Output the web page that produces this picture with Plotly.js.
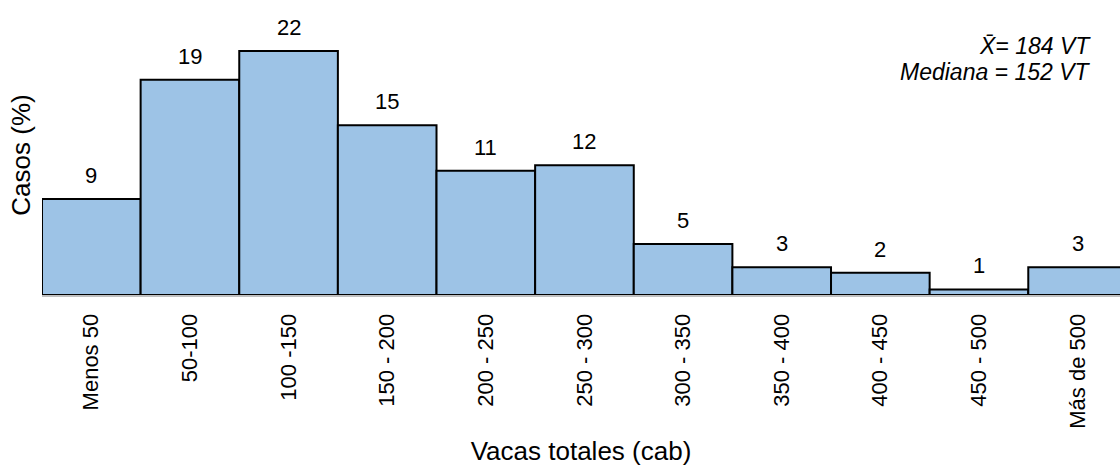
<!DOCTYPE html>
<html>
<head>
<meta charset="utf-8">
<script src="https://cdn.plot.ly/plotly-3.0.1.min.js"></script>
<style>html,body{margin:0;padding:0;background:#fff;}#chart{width:1120px;height:468px;}</style>
</head>
<body>
<div id="chart"></div>
<script>
const categories = ["Menos 50","50-100","100 -150","150 - 200","200 - 250","250 - 300","300 - 350","350 - 400","400 - 450","450 - 500","Más de 500"];
const values = [8.65, 19.4, 22.0, 15.3, 11.2, 11.7, 4.6, 2.5, 2.0, 0.5, 2.5];
const valueLabels = ["9","19","22","15","11","12","5","3","2","1","3"];
const statLines = ["<i>X̄= 184 VT</i>", "<i>Mediana = 152 VT</i>"];

const FONT = "Liberation Sans, Arial, sans-serif";

const trace = {
  type: "bar",
  x: categories,
  y: values,
  marker: {color: "#9dc3e6", line: {color: "#000000", width: 2}},
  hoverinfo: "none"
};

const annotations = categories.map((c, i) => ({
  x: c, y: values[i], xref: "x", yref: "y",
  text: valueLabels[i], showarrow: false,
  yanchor: "bottom", yshift: 9,
  font: {family: FONT, size: 22, color: "#000"}
}));

annotations.push({
  xref: "paper", yref: "paper", x: 0.975, y: 0.889, xanchor: "right", yanchor: "middle",
  text: statLines[0], showarrow: false, align: "right",
  font: {family: FONT, size: 23, color: "#000"}
});
annotations.push({
  xref: "paper", yref: "paper", x: 0.975, y: 0.796, xanchor: "right", yanchor: "middle",
  text: statLines[1], showarrow: false, align: "right",
  font: {family: FONT, size: 23, color: "#000"}
});

const layout = {
  width: 1120, height: 468,
  margin: {l: 42, r: 0, t: 15, b: 173, pad: 0},
  paper_bgcolor: "#fff", plot_bgcolor: "#fff",
  bargap: 0,
  showlegend: false,
  xaxis: {
    type: "category",
    range: [-0.5, 10.43],
    showline: true, linecolor: "#c0c0c0", linewidth: 2,
    layer: "above traces",
    ticks: "", tickangle: -90,
    ticklabelstandoff: 8,
    tickfont: {family: FONT, size: 22, color: "#000"},
    showgrid: false, zeroline: false,
    title: {text: "Vacas totales (cab)", font: {family: FONT, size: 26, color: "#000"}, standoff: 14}
  },
  yaxis: {
    range: [0, 25.25],
    showticklabels: false, ticks: "", showgrid: false, zeroline: false, showline: false,
    title: {text: "Casos (%)", font: {family: FONT, size: 26, color: "#000"}, standoff: 2}
  },
  annotations: annotations
};

Plotly.newPlot("chart", [trace], layout, {displayModeBar: false, staticPlot: true});
</script>
</body>
</html>
